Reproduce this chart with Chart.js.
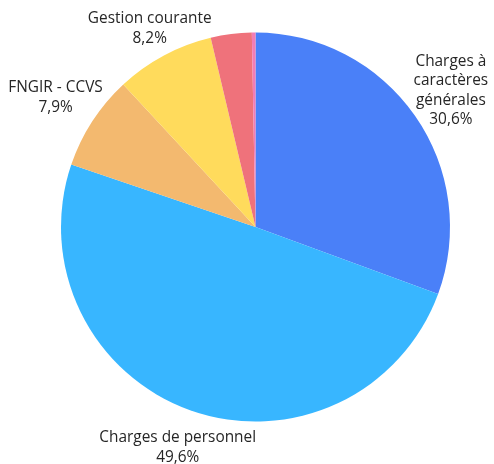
<!DOCTYPE html>
<html>
<head>
<meta charset="utf-8">
<script src="https://cdn.jsdelivr.net/npm/chart.js@4/dist/chart.umd.min.js"></script>
<style>
  html, body { margin: 0; padding: 0; background: #ffffff; }
  #wrap { width: 494px; height: 464px; position: relative; }
</style>
</head>
<body>
<div id="wrap"><canvas id="c" width="494" height="464"></canvas></div>
<script>
// ---- data ----
const categories = [
  ["Charges à", "caractères", "générales"],
  ["Charges de personnel"],
  ["FNGIR - CCVS"],
  ["Gestion courante"],
  [],
  []
];
const values = [30.6, 49.6, 7.9, 8.2, 3.4, 0.3];
const showLabel = [true, true, true, true, false, false];
const colors = ["#4a80f8", "#38b6ff", "#f3b96f", "#ffdb5c", "#ef727b", "#f27db6"];

const FONT = "15.4px 'Open Sans'";
const LINE_H = 19.5;
const LABEL_R = 1.225;

const outsideLabels = {
  id: 'outsideLabels',
  afterDatasetsDraw(chart) {
    const ctx = chart.ctx;
    const meta = chart.getDatasetMeta(0);
    const W = chart.width, H = chart.height;
    ctx.save();
    ctx.font = FONT;
    ctx.fillStyle = "#262626";
    ctx.textAlign = "center";
    ctx.textBaseline = "middle";
    meta.data.forEach((arc, i) => {
      if (!showLabel[i]) return;
      const p = arc.getProps(['x', 'y', 'startAngle', 'endAngle', 'outerRadius'], true);
      const mid = (p.startAngle + p.endAngle) / 2;
      const pct = values[i].toFixed(1).replace('.', ',') + '%';
      const lines = categories[i].concat([pct]);
      const w = Math.max(...lines.map(l => ctx.measureText(l).width));
      const h = lines.length * LINE_H;
      let r = p.outerRadius * LABEL_R;
      let cx, cy;
      for (let k = 0; k < 200; k++) {
        cx = p.x + r * Math.cos(mid);
        cy = p.y + r * Math.sin(mid);
        const ok = cy - h / 2 >= 9 && cy + h / 2 <= H + 3 && cx - w / 2 >= 0 && cx + w / 2 <= W;
        if (ok) break;
        r -= 0.5;
      }
      lines.forEach((l, j) => {
        ctx.fillText(l, cx, cy - h / 2 + LINE_H * (j + 0.5));
      });
    });
    ctx.restore();
  }
};

new Chart(document.getElementById('c'), {
  type: 'pie',
  data: {
    labels: categories.map(c => c.join(' ')),
    datasets: [{
      data: values,
      backgroundColor: colors,
      borderWidth: 0
    }]
  },
  options: {
    responsive: false,
    animation: false,
    layout: { padding: { left: 61, right: 44, top: 32.5, bottom: 42.5 } },
    plugins: {
      legend: { display: false },
      tooltip: { enabled: false }
    }
  },
  plugins: [outsideLabels]
});
</script>
</body>
</html>
